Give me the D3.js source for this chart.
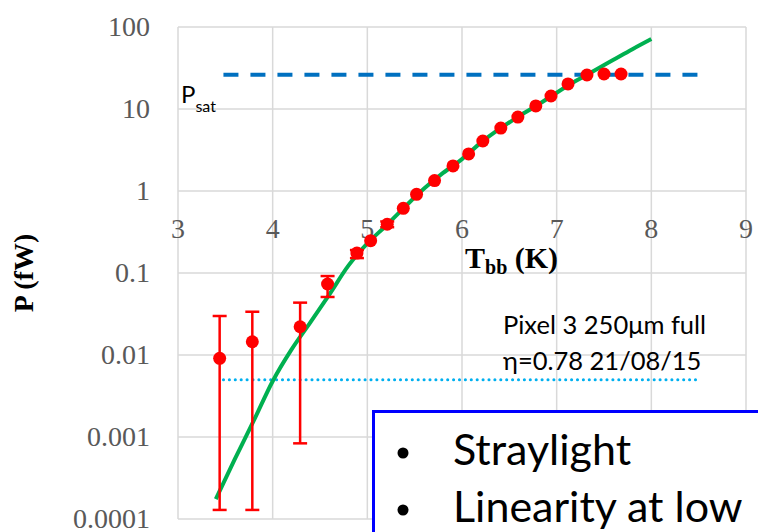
<!DOCTYPE html>
<html>
<head>
<meta charset="utf-8">
<script src="https://cdn.jsdelivr.net/npm/d3@7"></script>
<style>
body { margin:0; background:#fff; }
svg text { font-family: "Liberation Serif", "Times New Roman", serif; }
.sans { font-family: Lato, "Open Sans", sans-serif !important; }
</style>
</head>
<body>
<svg id="svg" width="758" height="532"></svg>
<script>
// measured points (red)
var tbb = [3.44, 3.785, 4.29, 4.58, 4.89, 5.035, 5.21, 5.38, 5.52, 5.71, 5.905, 6.07, 6.22, 6.41, 6.59, 6.78, 6.94, 7.12, 7.32, 7.50, 7.68];
var power = [0.0091, 0.0145, 0.0221, 0.0734, 0.175, 0.248, 0.393, 0.615, 0.91, 1.34, 2.02, 2.83, 4.07, 5.86, 7.98, 10.9, 14.4, 20.2, 26.0, 26.7, 26.7];
var errLo = [0.000129, 0.000129, 0.000837, 0.051, 0.152, 0.248, 0.362, 0.615, 0.91, 1.34, 2.02, 2.83, 4.07, 5.86, 7.98, 10.9, 14.4, 20.2, 26.0, 26.7, 26.7];
var errHi = [0.0299, 0.0337, 0.0435, 0.0918, 0.1905, 0.248, 0.425, 0.615, 0.91, 1.34, 2.02, 2.83, 4.07, 5.86, 7.98, 10.9, 14.4, 20.2, 26.0, 26.7, 26.7];

// model curve (green)
var modelT = [3.4, 3.6, 3.8, 4.0, 4.2, 4.4, 4.6, 4.8, 5.0, 5.2, 5.4, 5.6, 5.8, 6.0, 6.2, 6.4, 6.6, 6.8, 7.0, 7.2, 7.4, 7.6, 7.8, 8.0];
var modelP = [0.000175, 0.000537, 0.00158, 0.00479, 0.0117, 0.0251, 0.055, 0.123, 0.229, 0.38, 0.646, 1.07, 1.66, 2.45, 3.89, 5.75, 8.13, 11.2, 15.8, 21.9, 29.5, 39.8, 53.7, 71.4];

// reference levels
var psat = 26.2;
var psatRange = [3.48, 8.5];
var noise = 0.005;
var noiseRange = [3.48, 8.5];

var xTicks = [3, 4, 5, 6, 7, 8, 9];
var yTicks = [100, 10, 1, 0.1, 0.01, 0.001, 0.0001];
var yTickLabels = ["100", "10", "1", "0.1", "0.01", "0.001", "0.0001"];

var svg = d3.select("#svg");
var x = d3.scaleLinear().domain([3, 9]).range([178, 746]);
var y = d3.scaleLog().domain([0.0001, 100]).range([519, 27]);

// grid
svg.append("g").selectAll("line").data(xTicks).enter().append("line")
  .attr("x1", d => x(d)).attr("x2", d => x(d))
  .attr("y1", y(100)).attr("y2", y(0.0001))
  .attr("stroke", "#d9d9d9").attr("stroke-width", 1.5);
svg.append("g").selectAll("line").data(yTicks).enter().append("line")
  .attr("x1", x(3)).attr("x2", x(9))
  .attr("y1", d => y(d)).attr("y2", d => y(d))
  .attr("stroke", "#d9d9d9").attr("stroke-width", 1.5);

// tick labels
svg.append("g").selectAll("text").data(yTicks).enter().append("text")
  .attr("x", 150).attr("y", d => y(d) + 9)
  .attr("text-anchor", "end").attr("fill", "#595959").attr("font-size", 28)
  .text((d, i) => yTickLabels[i]);
svg.append("g").selectAll("text").data(xTicks).enter().append("text")
  .attr("x", d => x(d)).attr("y", y(1) + 47)
  .attr("text-anchor", "middle").attr("fill", "#595959").attr("font-size", 28)
  .text(d => d);

// axis titles
var xt = svg.append("text").attr("x", 465).attr("y", 268)
  .attr("font-size", 30).attr("font-weight", "bold");
xt.append("tspan").text("T");
xt.append("tspan").attr("font-size", 20).attr("dy", 6).text("bb");
xt.append("tspan").attr("dy", -6).text(" (K)");

svg.append("text").attr("transform", "translate(33,273) rotate(-90)")
  .attr("text-anchor", "middle").attr("font-size", 28).attr("font-weight", "bold")
  .text("P (fW)");

// Psat and noise lines
svg.append("line")
  .attr("x1", x(psatRange[0])).attr("x2", x(psatRange[1]))
  .attr("y1", y(psat)).attr("y2", y(psat))
  .attr("stroke", "#0070c0").attr("stroke-width", 4)
  .attr("stroke-dasharray", "15,12");
svg.append("line")
  .attr("x1", x(noiseRange[0])).attr("x2", x(noiseRange[1]))
  .attr("y1", y(noise)).attr("y2", y(noise))
  .attr("stroke", "#00b0f0").attr("stroke-width", 3)
  .attr("stroke-linecap", "round").attr("stroke-dasharray", "0.1,5.8");

var ps = svg.append("text").attr("class", "sans").attr("x", 181).attr("y", 103).attr("font-size", 24);
ps.append("tspan").text("P");
ps.append("tspan").attr("font-size", 16).attr("dy", 9).text("sat");

// model
var line = d3.line().x((d, i) => x(modelT[i])).y(d => y(d)).curve(d3.curveMonotoneX);
svg.append("path").datum(modelP).attr("d", line)
  .attr("fill", "none").attr("stroke", "#00b050").attr("stroke-width", 4);

// error bars
var eb = svg.append("g").attr("stroke", "#ff0000").attr("stroke-width", 2.5);
tbb.forEach(function(t, i) {
  if (errHi[i] == errLo[i]) return;
  var cx = x(t);
  eb.append("line").attr("x1", cx).attr("x2", cx).attr("y1", y(errHi[i])).attr("y2", y(errLo[i]));
  eb.append("line").attr("x1", cx - 7).attr("x2", cx + 7).attr("y1", y(errHi[i])).attr("y2", y(errHi[i]));
  eb.append("line").attr("x1", cx - 7).attr("x2", cx + 7).attr("y1", y(errLo[i])).attr("y2", y(errLo[i]));
});
svg.append("g").selectAll("circle").data(power).enter().append("circle")
  .attr("cx", (d, i) => x(tbb[i])).attr("cy", d => y(d)).attr("r", 6.5)
  .attr("fill", "#ff0000");

// annotation
svg.append("text").attr("class", "sans").attr("x", 503).attr("y", 334).attr("font-size", 25.5).text("Pixel 3 250\u03bcm full");
svg.append("text").attr("class", "sans").attr("x", 503).attr("y", 370).attr("font-size", 25.5).text("\u03b7=0.78 21/08/15");

// overlaid box
svg.append("rect").attr("x", 373.5).attr("y", 411.5).attr("width", 400).attr("height", 140)
  .attr("fill", "#fff").attr("stroke", "#0000ff").attr("stroke-width", 3);
var bullets = ["Straylight", "Linearity at low"];
svg.append("g").selectAll("circle").data(bullets).enter().append("circle")
  .attr("cx", 403).attr("cy", (d, i) => 453 + i * 57).attr("r", 5.5).attr("fill", "#000");
svg.append("g").selectAll("text").data(bullets).enter().append("text")
  .attr("class", "sans").attr("x", 453).attr("y", (d, i) => 465 + i * 57)
  .attr("font-size", 43).text(d => d);
</script>
</body>
</html>
